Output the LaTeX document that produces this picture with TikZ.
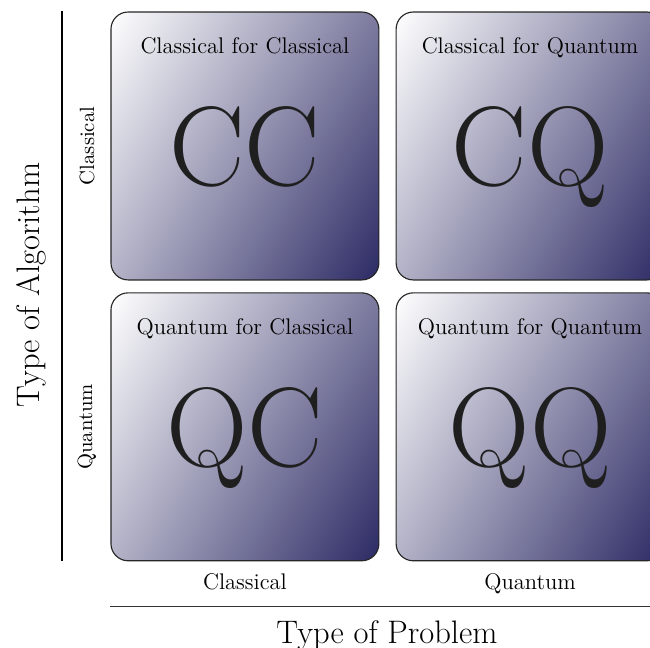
\documentclass[tikz,border=0pt,12pt]{standalone}
\usepackage{tikz}
\usetikzlibrary{positioning}
\usetikzlibrary{shadings}

\definecolor{quadnavy}{RGB}{44,42,100}

\begin{document}
\begin{tikzpicture}[quadrant/.style={draw=black!85, semithick, rounded corners=0.32cm,
                    minimum size=5cm, inner sep=0pt, text depth=0pt,
                    shading=bilinear interpolation,
                    upper left=white, upper right=quadnavy!62,
                    lower left=quadnavy!36, lower right=quadnavy,
                    text=black!88, font=\fontsize{60}{62}\selectfont},
                    quadlabel/.style={font=\normalsize},
                    sidelabel/.style={font=\small, rotate=90},
                    axistitle/.style={font=\Large}]

\useasboundingbox (0,0) rectangle (12.13,-12.09);

\node[quadrant] (CC) at (4.571,-2.724) {CC};
\node[quadrant, right=0.3cm of CC] (CQ) {CQ};
\node[quadrant, below=0.22cm of CC] (QC) {QC};
\node[quadrant, right=0.3cm of QC] (QQ) {QQ};

\node[quadlabel, below=0.34cm of CC.north] (tCC) {Classical for Classical};
\node[quadlabel, below=0.34cm of CQ.north] (tCQ) {Classical for Quantum};
\node[quadlabel, below=0.34cm of QC.north] (tQC) {Quantum for Classical};
\node[quadlabel, below=0.34cm of QQ.north] (tQQ) {Quantum for Quantum};

\coordinate (atop) at (CC.north -| 1.157,0);
\coordinate (abot) at (QC.south -| 1.157,0);
\coordinate (pleft) at (QC.south west |- 0,-11.31);
\coordinate (pright) at (QQ.south east |- 0,-11.31);

\draw[semithick] (atop) -- (abot);
\draw[semithick, black!80] (pleft) -- (pright);

\node[sidelabel] (aclass) at (CC -| 1.623,0) {Classical};
\node[sidelabel] (aquant) at (QC -| 1.623,0) {Quantum};
\node[axistitle, rotate=90] (alg) at (0.578,-5.32) {Type of Algorithm};

\node[quadlabel, anchor=base] (pclass) at (QC |- 0,-11.01) {Classical};
\node[quadlabel, anchor=base] (pquant) at (QQ |- 0,-11.01) {Quantum};
\node[axistitle, anchor=base] (prob) at (7.221,-12.0) {Type of Problem};
\end{tikzpicture}
\end{document}
